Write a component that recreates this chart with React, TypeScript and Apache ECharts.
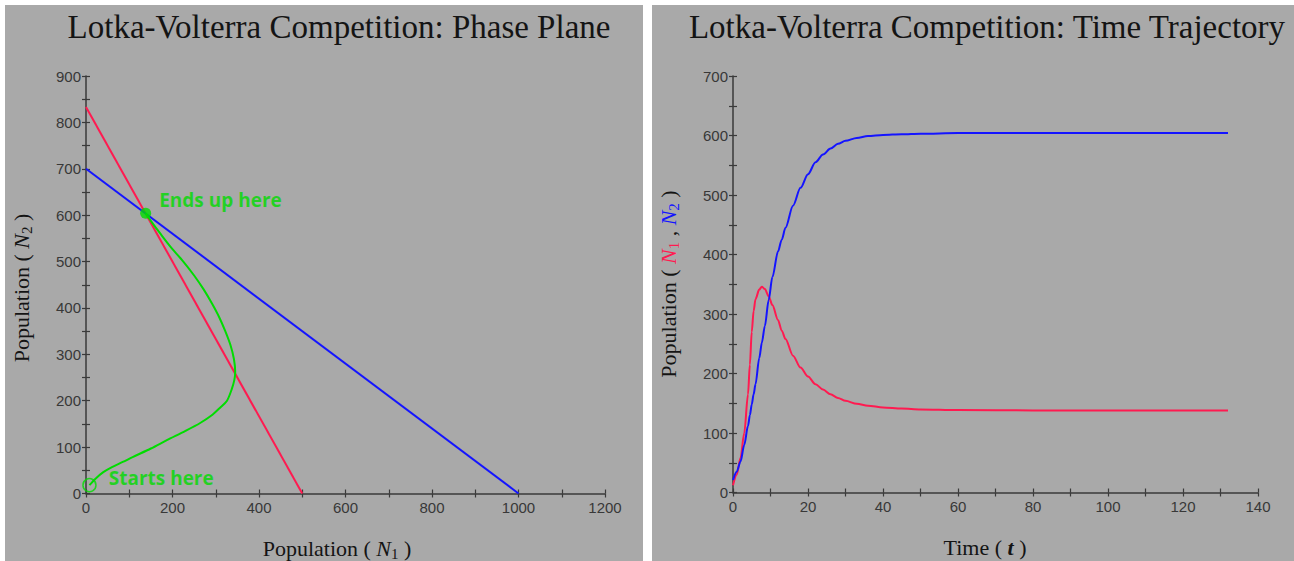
import React, { useEffect, useRef } from 'react';
import * as echarts from 'echarts';

const RED = '#ff1a50';
const BLUE = '#1414ff';
const GREEN = '#00dc00';
const PANEL_BG = '#a9a9a9';
const AXIS_COLOR = '#3a3a3a';
const TEXT_COLOR = '#141414';

// ---------- Phase plane data ----------
const n1Nullcline = [[0, 833], [500, 0]];
const n2Nullcline = [[0, 700], [1000, 0]];
const trajN1 = [8, 22, 40, 60, 85, 109, 150, 187, 230, 264, 290, 310, 326, 337, 343, 345, 342, 334, 322, 308, 291, 272, 250, 225, 197, 172, 152, 138];
const trajN2 = [18, 32, 46, 57, 68, 79, 97, 115, 135, 152, 168, 185, 200, 225, 245, 262, 290, 320, 350, 380, 410, 440, 470, 500, 530, 560, 585, 604];
const startPoint = [8, 18];
const endPoint = [138, 604];
const phaseXTicks = { min: 0, max: 1200, step: 100, labelEvery: 200 };
const phaseYTicks = { min: 0, max: 900, step: 50, labelEvery: 100 };

// ---------- Time trajectory data ----------
const timeT = [0, 1, 2, 3, 4, 4.5, 5, 5.5, 6, 7, 7.7, 8.5, 9.5, 10.5, 12, 13, 14, 16, 18, 20, 22, 24, 26, 28, 30, 33, 36, 40, 45, 50, 60, 80, 100, 132];
const timeN1 = [12, 30, 58, 100, 165, 215, 270, 305, 325, 341, 346, 342, 330, 315, 290, 272, 258, 230, 210, 195, 182, 173, 165, 159, 154, 149, 146, 143, 141, 139.5, 138.5, 138, 138, 138];
const timeN2 = [21, 35, 52, 80, 112, 130, 148, 165, 182, 226, 252, 280, 323, 362, 405, 425, 445, 482, 512, 535, 555, 568, 578, 586, 591, 596, 599, 601, 602, 603, 604, 604, 604, 604];
const timeXTicks = { min: 0, max: 140, step: 10, labelEvery: 20 };
const timeYTicks = { min: 0, max: 700, step: 50, labelEvery: 100 };

const titles = ['Lotka-Volterra Competition: Phase Plane', 'Lotka-Volterra Competition: Time Trajectory'];

const SERIF = "'Liberation Serif', 'Times New Roman', serif";
const SANS = "'Liberation Sans', Arial, sans-serif";
const NOTE_FONT = "'Open Sans', Lato, sans-serif";

function mainAxis(gridIndex: number, t: any, isX: boolean) {
  return {
    type: 'value',
    gridIndex,
    position: isX ? 'bottom' : 'left',
    min: t.min,
    max: t.max,
    interval: t.step,
    axisLine: { show: true, lineStyle: { color: AXIS_COLOR, width: 1.5 } },
    axisTick: { show: true, inside: false, length: 4, lineStyle: { color: AXIS_COLOR, width: 1.2 } },
    axisLabel: {
      show: true,
      margin: isX ? 6 : 5,
      color: '#383838',
      fontFamily: SANS,
      fontSize: 15,
      formatter: (v: number) => (Math.round(v) % t.labelEvery === 0 ? String(v) : ''),
    },
    splitLine: { show: false },
  };
}

function overlayAxis(gridIndex: number, t: any, isX: boolean) {
  return {
    type: 'value',
    gridIndex,
    position: isX ? 'bottom' : 'left',
    min: t.min,
    max: t.max,
    interval: t.step,
    axisLine: { show: false },
    axisTick: { show: true, inside: true, length: 4, lineStyle: { color: AXIS_COLOR, width: 1.2 } },
    axisLabel: { show: false },
    splitLine: { show: false },
  };
}

const baseTok = { fontFamily: SERIF, fontSize: 22, fill: TEXT_COLOR, color: TEXT_COLOR, lineHeight: 26 };
const italTok = { ...baseTok, fontStyle: 'italic' };
const subTok = { fontFamily: SERIF, fontSize: 15, fill: TEXT_COLOR, color: TEXT_COLOR, lineHeight: 10, verticalAlign: 'bottom' };

function buildOption() {
  const pairs = (xs: number[], ys: number[]) => xs.map((x, i) => [x, ys[i]]);
  return {
    animation: false,
    backgroundColor: 'transparent',
    grid: [
      { left: 86, top: 76, width: 519, height: 417.5, outerBoundsMode: 'none' },
      { left: 733, top: 76, width: 525, height: 416.5, outerBoundsMode: 'none' },
    ],
    xAxis: [
      mainAxis(0, phaseXTicks, true),
      overlayAxis(0, phaseXTicks, true),
      mainAxis(1, timeXTicks, true),
      overlayAxis(1, timeXTicks, true),
    ],
    yAxis: [
      mainAxis(0, phaseYTicks, false),
      overlayAxis(0, phaseYTicks, false),
      mainAxis(1, timeYTicks, false),
      overlayAxis(1, timeYTicks, false),
    ],
    series: [
      {
        type: 'line', xAxisIndex: 0, yAxisIndex: 0, data: n1Nullcline, showSymbol: false,
        lineStyle: { color: RED, width: 2 }, z: 3,
      },
      {
        type: 'line', xAxisIndex: 0, yAxisIndex: 0, data: n2Nullcline, showSymbol: false,
        lineStyle: { color: BLUE, width: 2 }, z: 3,
      },
      {
        type: 'line', xAxisIndex: 0, yAxisIndex: 0, data: pairs(trajN1, trajN2), showSymbol: false,
        smooth: 0.3, lineStyle: { color: GREEN, width: 2 }, z: 4,
      },
      {
        type: 'scatter', xAxisIndex: 0, yAxisIndex: 0, data: [endPoint], symbol: 'circle', symbolSize: 11,
        itemStyle: { color: GREEN }, z: 5,
        label: {
          show: true, position: 'right', distance: 8, offset: [0, -13], formatter: 'Ends up here',
          color: GREEN, fontFamily: NOTE_FONT, fontWeight: 'bold', fontSize: 19,
        },
      },
      {
        type: 'scatter', xAxisIndex: 0, yAxisIndex: 0, data: [startPoint], symbol: 'circle', symbolSize: 13,
        itemStyle: { color: 'rgba(0,0,0,0)', borderColor: GREEN, borderWidth: 1.5 }, z: 5,
        label: {
          show: true, position: 'right', distance: 12, offset: [0, -7], formatter: 'Starts here',
          color: GREEN, fontFamily: NOTE_FONT, fontWeight: 'bold', fontSize: 19,
        },
      },
      {
        type: 'line', xAxisIndex: 2, yAxisIndex: 2, data: pairs(timeT, timeN1), showSymbol: false,
        smooth: 0.3, smoothMonotone: 'x', lineStyle: { color: RED, width: 2 }, z: 3,
      },
      {
        type: 'line', xAxisIndex: 2, yAxisIndex: 2, data: pairs(timeT, timeN2), showSymbol: false,
        smooth: 0.3, smoothMonotone: 'x', lineStyle: { color: BLUE, width: 2 }, z: 4,
      },
    ],
    graphic: [
      {
        type: 'text', x: 339, y: 27, z: 10,
        style: { text: titles[0], fontFamily: SERIF, fontSize: 33, fill: TEXT_COLOR, align: 'center', verticalAlign: 'middle' },
      },
      {
        type: 'text', x: 987, y: 27, z: 10,
        style: { text: titles[1], fontFamily: SERIF, fontSize: 33, fill: TEXT_COLOR, align: 'center', verticalAlign: 'middle' },
      },
      {
        type: 'text', x: 337, y: 548, z: 10,
        style: {
          text: '{a|Population ( }{n|N}{s|1}{a| )}', align: 'center', verticalAlign: 'middle',
          rich: { a: baseTok, n: italTok, s: subTok },
        },
      },
      {
        type: 'text', x: 21, y: 288, z: 10, rotation: Math.PI / 2,
        style: {
          text: '{a|Population ( }{n|N}{s|2}{a| )}', align: 'center', verticalAlign: 'middle',
          rich: { a: baseTok, n: italTok, s: subTok },
        },
      },
      {
        type: 'text', x: 985, y: 547, z: 10,
        style: {
          text: '{a|Time ( }{t|t}{a| )}', align: 'center', verticalAlign: 'middle',
          rich: { a: baseTok, t: { ...baseTok, fontStyle: 'italic', fontWeight: 'bold' } },
        },
      },
      {
        type: 'text', x: 668, y: 284, z: 10, rotation: Math.PI / 2,
        style: {
          text: '{a|Population ( }{r|N}{rs|1}{a| , }{b|N}{bs|2}{a| )}', align: 'center', verticalAlign: 'middle',
          rich: {
            a: baseTok,
            r: { ...italTok, fill: RED, color: RED },
            rs: { ...subTok, fill: RED, color: RED },
            b: { ...italTok, fill: BLUE, color: BLUE },
            bs: { ...subTok, fill: BLUE, color: BLUE },
          },
        },
      },
    ],
  };
}

export default function App() {
  const ref = useRef<HTMLDivElement>(null);
  useEffect(() => {
    if (!ref.current) return;
    const chart = echarts.init(ref.current, null, { renderer: 'svg' });
    chart.setOption(buildOption() as any);
    return () => chart.dispose();
  }, []);
  return (
    <div style={{ position: 'absolute', left: 0, top: 0, width: 1294, height: 561, background: '#ffffff' }}>
      <div style={{ position: 'absolute', left: 5, top: 5, width: 638, height: 556, background: PANEL_BG }} />
      <div style={{ position: 'absolute', left: 652, top: 5, width: 642, height: 556, background: PANEL_BG }} />
      <div ref={ref} style={{ position: 'absolute', left: 0, top: 0, width: 1294, height: 561 }} />
    </div>
  );
}
